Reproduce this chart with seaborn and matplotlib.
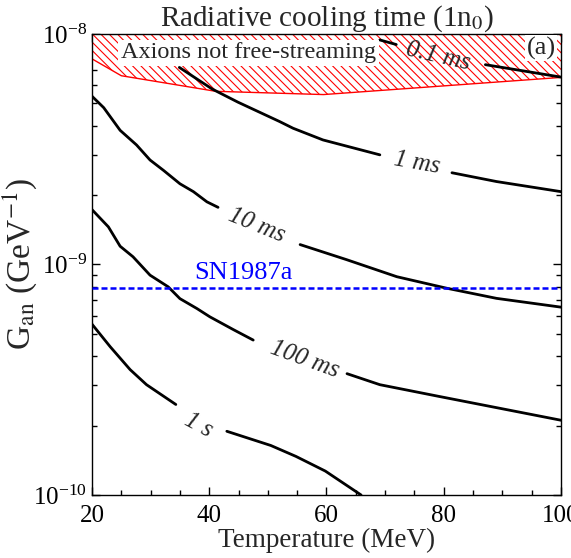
import numpy as np
import matplotlib
matplotlib.use("Agg")
import matplotlib.pyplot as plt
import seaborn as sns

# contour segments (T in MeV, G_an in GeV^-1)
t_01ms_a = [69.1, 71.9]
g_01ms_a = [9.42e-9, 9.0e-9]
t_01ms_b = [87.1, 100.0]
g_01ms_b = [7.36e-9, 6.50e-9]

t_1ms_a = [34.9, 40.5, 44.9, 52.0, 54.3, 59.4, 69.1]
g_1ms_a = [7.16e-9, 5.77e-9, 5.06e-9, 4.17e-9, 3.90e-9, 3.47e-9, 2.99e-9]
t_1ms_b = [81.4, 89.0, 100.0]
g_1ms_b = [2.50e-9, 2.29e-9, 2.07e-9]

t_10ms_a = [20.0, 22.0, 24.8, 27.6, 29.9, 32.2, 35.0, 37.3, 39.6, 41.5]
g_10ms_a = [5.37e-9, 4.79e-9, 3.82e-9, 3.30e-9, 2.84e-9, 2.56e-9, 2.24e-9, 2.07e-9, 1.87e-9, 1.77e-9]
t_10ms_b = [55.5, 63.4, 72.0, 80.5, 89.0, 100.0]
g_10ms_b = [1.22e-9, 1.05e-9, 8.85e-10, 7.89e-10, 7.13e-10, 6.53e-10]

t_100ms_a = [20.0, 22.8, 24.8, 27.0, 29.9, 33.0, 35.0, 37.9, 40.1, 44.1, 47.5]
g_100ms_a = [1.73e-9, 1.456e-9, 1.20e-9, 1.08e-9, 8.99e-10, 8.0e-10, 7.11e-10, 6.44e-10, 5.93e-10, 5.22e-10, 4.70e-10]
t_100ms_b = [63.5, 69.1, 79.1, 100.0]
g_100ms_b = [3.36e-10, 3.01e-10, 2.68e-10, 2.11e-10]

t_1s_a = [20.0, 23.1, 26.5, 29.3, 34.3]
g_1s_a = [5.51e-10, 4.40e-10, 3.50e-10, 3.01e-10, 2.47e-10]
t_1s_b = [43.0, 50.5, 54.8, 59.8, 65.9]
g_1s_b = [1.89e-10, 1.64e-10, 1.47e-10, 1.27e-10, 1.0e-10]

# free-streaming boundary
t_edge = [20.0, 25.0, 41.1, 59.5, 100.0]
g_edge = [7.80e-9, 6.59e-9, 5.64e-9, 5.46e-9, 6.48e-9]

g_sn = 7.9e-10

contour_labels = ["0.1 ms", "1 ms", "10 ms", "100 ms", "1 s"]
label_t = [79.0, 75.4, 48.1, 56.3, 38.1]
label_g = [7.98e-9, 2.75e-9, 1.47e-9, 3.85e-10, 2.01e-10]
label_rot = [-13, -10, -22, -20, -28]

sns.set_theme(style="ticks")
plt.rcParams["font.family"] = ["Liberation Serif", "DejaVu Serif"]
plt.rcParams["mathtext.fontset"] = "stix"
plt.rcParams["hatch.linewidth"] = 0.8

fig = plt.figure(figsize=(5.71, 5.58), dpi=100)
ax = fig.add_axes([0.1611, 0.1129, 0.8214, 0.8262])

# hatched region
ax.fill_between(t_edge, g_edge, 1e-8, facecolor="white", edgecolor="red",
                hatch="\\\\\\\\", linewidth=0, zorder=1)
sns.lineplot(x=t_edge, y=g_edge, color="red", linewidth=1.0, ax=ax, zorder=2)

segs = [(t_01ms_a, g_01ms_a), (t_01ms_b, g_01ms_b),
        (t_1ms_a, g_1ms_a), (t_1ms_b, g_1ms_b),
        (t_10ms_a, g_10ms_a), (t_10ms_b, g_10ms_b),
        (t_100ms_a, g_100ms_a), (t_100ms_b, g_100ms_b),
        (t_1s_a, g_1s_a), (t_1s_b, g_1s_b)]
for tt, gg in segs:
    sns.lineplot(x=tt, y=gg, color="black", linewidth=2.0, sort=False,
                 estimator=None, ax=ax, zorder=3)

for lab, tx, gy, rot in zip(contour_labels, label_t, label_g, label_rot):
    ax.text(tx, gy, lab, fontsize=18, style="italic", rotation=rot,
            ha="center", va="center", rotation_mode="anchor", zorder=4)

ax.axhline(g_sn, color="blue", linewidth=1.8, dashes=(2.4, 1.2), zorder=3)
ax.text(45.8, 8.65e-10, "SN1987a", color="blue", fontsize=19,
        ha="center", va="baseline")

ax.text(46.7, 8.27e-9, "Axions not free-streaming", fontsize=17.5,
        ha="center", va="center", zorder=5,
        bbox=dict(facecolor="white", edgecolor="none", pad=2))
ax.text(96.6, 8.69e-9, "(a)", fontsize=19, ha="center", va="center", zorder=5,
        bbox=dict(facecolor="white", edgecolor="none", pad=1))

ax.set_yscale("log")
ax.set_xlim(20, 100)
ax.set_ylim(1e-10, 1e-8)
ax.set_xticks([20, 40, 60, 80, 100])
ax.xaxis.set_minor_locator(matplotlib.ticker.MultipleLocator(5))
ax.tick_params(which="both", direction="in", top=True, right=True,
               colors="black", labelsize=18, width=1.0)
ax.tick_params(which="major", length=6)
ax.tick_params(which="minor", length=3.5)
ax.tick_params(axis="x", pad=7)
for s in ax.spines.values():
    s.set_linewidth(1.0)
    s.set_color("black")

ax.set_title("Radiative cooling time (1n$_0$)", fontsize=21, pad=3)
ax.set_xlabel("Temperature (MeV)", fontsize=19.5, va="top")
ax.xaxis.set_label_coords(0.5, -0.072)
ax.set_ylabel("G$_{\\rm an}$ (GeV$^{-1}$)", fontsize=24)
ax.yaxis.set_label_coords(-0.112, 0.5)

fig.savefig("out.png", dpi=100, facecolor="white")
